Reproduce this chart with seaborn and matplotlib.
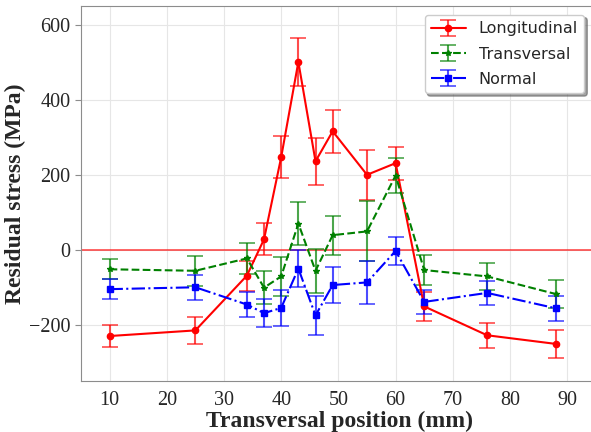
import matplotlib
matplotlib.use("Agg")
import matplotlib.pyplot as plt
import seaborn as sns
import pandas as pd

# transversal positions (mm)
positions = [10, 25, 34, 37, 40, 43, 46, 49, 55, 60, 65, 76, 88]

longitudinal = [-230, -215, -69, 28, 247, 501, 236, 316, 200, 231, -151, -228, -251]
longitudinal_err = [30, 37, 40, 43, 56, 64, 62, 57, 67, 44, 38, 33, 37]

transversal = [-52, -56, -23, -101, -71, 70, -56, 39, 49, 198, -54, -71, -118]
transversal_err = [27, 40, 41, 44, 52, 57, 58, 52, 80, 46, 40, 36, 37]

normal = [-105, -100, -146, -169, -155, -50, -175, -94, -87, -3, -139, -115, -156]
normal_err = [27, 34, 33, 38, 47, 50, 52, 49, 58, 38, 33, 32, 33]

series = [
    ("Longitudinal", longitudinal, longitudinal_err, "red", "-", "o", 4.5),
    ("Transversal", transversal, transversal_err, "green", "--", "*", 4),
    ("Normal", normal, normal_err, "blue", "-.", "s", 4.5),
]

sns.set_style("whitegrid", {"axes.edgecolor": "0.55", "grid.color": "0.9"})

fig = plt.figure(figsize=(5.91, 4.32), dpi=100)
ax = fig.add_axes([0.137, 0.118, 0.876, 0.868])
# original picture is cropped on the right, so no right spine shows
ax.spines["right"].set_visible(False)

for name, vals, errs, col, ls, mk, ms in series:
    df = pd.DataFrame({"x": positions, "y": vals, "err": errs})
    ecol = matplotlib.colors.to_rgba(col, 0.7)
    ax.errorbar(df["x"], df["y"], yerr=df["err"], color=col, ecolor=ecol,
                linestyle=ls, marker=mk, markersize=ms, linewidth=1.5,
                elinewidth=1.5, capsize=6, capthick=1.2, label=name)

ax.axhline(0, color="red", linewidth=1.2, alpha=0.7, zorder=1)

ax.set_xlim(5, 95.5)
ax.set_ylim(-350, 650)
ax.set_xticks(range(10, 100, 10))
ax.set_yticks([-200, 0, 200, 400, 600])
ax.tick_params(axis="both", which="both", length=4, color="0.55",
               labelsize=14.5, left=True, bottom=False)
for lab in ax.get_xticklabels() + ax.get_yticklabels():
    lab.set_family("Liberation Serif")

ax.set_xlabel("Transversal position (mm)", fontsize=17, fontweight="bold",
              family="Liberation Serif", labelpad=0)
ax.set_ylabel("Residual stress (MPa)", fontsize=17, fontweight="bold",
              family="Liberation Serif", labelpad=2)

leg = ax.legend(loc="upper right", bbox_to_anchor=(0.988, 0.998), fontsize=11.5,
                frameon=True, shadow=True, fancybox=True, borderpad=0.4,
                labelspacing=0.65, handlelength=2.2)
leg.get_frame().set_edgecolor("0.8")

fig.savefig("out.png", dpi=100)
